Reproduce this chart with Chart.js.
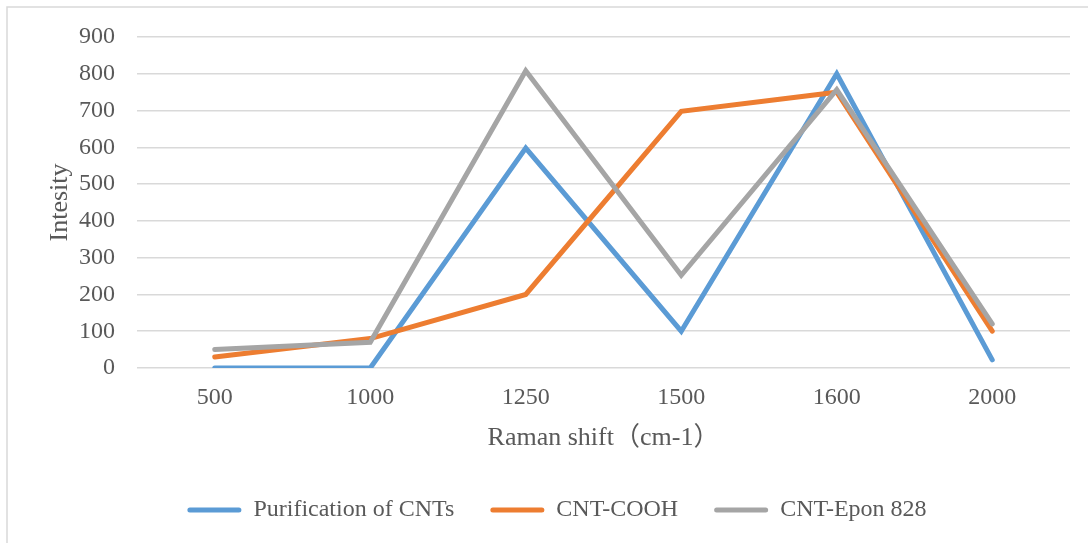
<!DOCTYPE html>
<html>
<head>
<meta charset="utf-8">
<script src="https://cdn.jsdelivr.net/npm/chart.js@4/dist/chart.umd.min.js"></script>
<style>
  html, body { margin: 0; padding: 0; background: #ffffff; }
  #wrap { width: 1088px; height: 543px; position: relative; }
</style>
</head>
<body>
<div id="wrap"><canvas id="c" width="1088" height="543"></canvas></div>
<script>
const categories = ['500', '1000', '1250', '1500', '1600', '2000'];
const purification = [0, 0, 598, 100, 800, 22];
const cntCOOH = [30, 80, 200, 698, 750, 100];
const cntEpon = [50, 70, 808, 252, 757, 120];
const yTicks = [0, 100, 200, 300, 400, 500, 600, 700, 800, 900];
const seriesNames = ['Purification of CNTs', 'CNT-COOH', 'CNT-Epon 828'];
const seriesColors = ['#5B9BD5', '#ED7D31', '#A5A5A5'];

const FONT = "'Liberation Serif', 'Times New Roman', 'Noto Sans CJK SC', serif";
const TEXT = '#595959';
const PAD_BOTTOM = 11;

const borderPlugin = {
  id: 'outerBorder',
  beforeDraw(chart) {
    const ctx = chart.ctx;
    ctx.save();
    ctx.strokeStyle = '#d9d9d9';
    ctx.lineWidth = 1.5;
    ctx.beginPath();
    ctx.moveTo(7, 543);
    ctx.lineTo(7, 7);
    ctx.lineTo(1088, 7);
    ctx.stroke();
    ctx.restore();
  }
};

function ds(i, data, order) {
  return {
    label: seriesNames[i],
    data: data,
    borderColor: seriesColors[i],
    backgroundColor: seriesColors[i],
    borderWidth: 5,
    borderJoinStyle: 'miter',
    borderCapStyle: 'round',
    pointRadius: 0,
    pointHoverRadius: 0,
    tension: 0,
    order: order
  };
}

new Chart(document.getElementById('c'), {
  type: 'line',
  data: {
    labels: categories,
    datasets: [ds(0, purification, 3), ds(1, cntCOOH, 2), ds(2, cntEpon, 1)]
  },
  plugins: [borderPlugin],
  options: {
    responsive: false,
    animation: false,
    devicePixelRatio: 1,
    layout: { padding: { top: 37, left: 44, right: 18, bottom: PAD_BOTTOM } },
    plugins: {
      tooltip: { enabled: false },
      legend: {
        position: 'bottom',
        labels: {
          font: { family: FONT, size: 24 },
          color: TEXT,
          boxWidth: 54,
          boxHeight: 5,
          padding: 36,
          generateLabels(chart) {
            return Chart.defaults.plugins.legend.labels.generateLabels(chart)
              .map(l => Object.assign({}, l, { lineWidth: 0, borderRadius: 2.5, fillStyle: seriesColors[l.datasetIndex] }))
              .sort((a, b) => a.datasetIndex - b.datasetIndex);
          }
        }
      }
    },
    scales: {
      x: {
        type: 'category',
        offset: true,
        grid: { display: false, drawTicks: false },
        border: { display: false },
        ticks: { font: { family: FONT, size: 24 }, color: TEXT, padding: 15, maxRotation: 0 },
        title: {
          display: true,
          text: 'Raman shift（cm-1）',
          font: { family: FONT, size: 26 },
          color: TEXT,
          padding: { top: 0, bottom: 8 }
        },
        afterFit(scale) {
          const lh = scale.chart.legend ? scale.chart.legend.height : 60;
          scale.height = 543 - PAD_BOTTOM - lh - 368;
        }
      },
      y: {
        min: 0,
        max: 900,
        afterBuildTicks(scale) { scale.ticks = yTicks.map(v => ({ value: v })); },
        grid: { color: '#d9d9d9', lineWidth: 1.5, drawTicks: false },
        border: { display: false },
        ticks: { font: { family: FONT, size: 24 }, color: TEXT, padding: 22 },
        title: {
          display: true,
          text: 'Intesity',
          font: { family: FONT, size: 26 },
          color: TEXT,
          padding: { top: 1, bottom: 0 }
        },
        afterFit(scale) { scale.width = 93; }
      }
    }
  }
});
</script>
</body>
</html>
